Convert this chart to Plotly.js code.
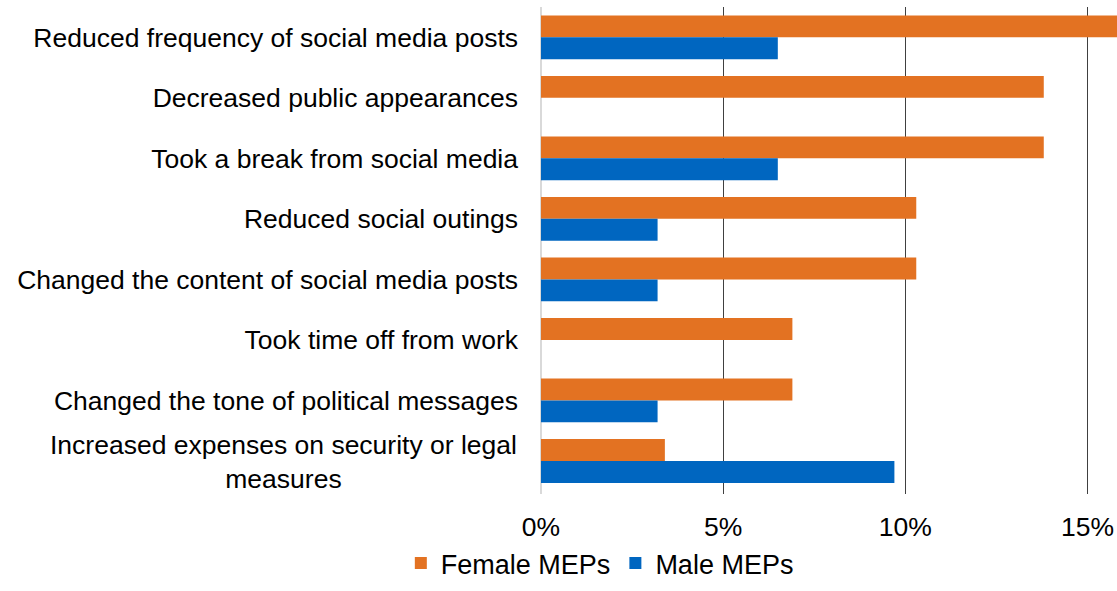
<!DOCTYPE html>
<html>
<head>
<meta charset="utf-8">
<script src="https://cdn.plot.ly/plotly-3.0.1.min.js"></script>
<style>
html,body{margin:0;padding:0;background:#fff;}
#chart{width:1117px;height:591px;}
</style>
</head>
<body>
<div id="chart"></div>
<script>
const categories = [
  "Reduced frequency of social media posts",
  "Decreased public appearances",
  "Took a break from social media",
  "Reduced social outings",
  "Changed the content of social media posts",
  "Took time off from work",
  "Changed the tone of political messages",
  "Increased expenses on security or legal measures"
];
const tickLabels = [
  "Reduced frequency of social media posts",
  "Decreased public appearances",
  "Took a break from social media",
  "Reduced social outings",
  "Changed the content of social media posts",
  "Took time off from work",
  "Changed the tone of political messages",
  ""
];
const longLabel = "Increased expenses on security or legal<br>measures";
const femaleValues = [17.2, 13.8, 13.8, 10.3, 10.3, 6.9, 6.9, 3.4];
const maleValues = [6.5, 0, 6.5, 3.2, 3.2, 0, 3.2, 9.7];
const xTickVals = [0, 5, 10, 15];
const xTickText = ["0%", "5%", "10%", "15%"];

const font = "Liberation Sans, Arial, sans-serif";

const traces = [
  {type:"bar", orientation:"h", name:"Female MEPs", y:categories, x:femaleValues,
   marker:{color:"#E37222"}, hoverinfo:"x+y"},
  {type:"bar", orientation:"h", name:"Male MEPs", y:categories, x:maleValues,
   marker:{color:"#0066C0"}, hoverinfo:"x+y"}
];

const layout = {
  width:1117, height:591,
  margin:{l:541, r:0, t:7, b:97},
  paper_bgcolor:"#fff", plot_bgcolor:"#fff",
  barmode:"group", bargap:0.277, bargroupgap:0,
  font:{family:font, size:26.5, color:"#000"},
  showlegend:true,
  legend:{orientation:"h", xref:"container", yref:"container", x:0.537, xanchor:"center",
          y:0.005, yanchor:"bottom", font:{size:27, color:"#000"}, traceorder:"normal",
          itemwidth:30, tracegroupgap:0},
  xaxis:{range:[0,15.81], tickvals:xTickVals, ticktext:xTickText, showgrid:true,
         gridcolor:"#404040", gridwidth:1, zeroline:true, zerolinecolor:"#d9d9d9", zerolinewidth:2,
         showline:false, ticks:"", ticklabelstandoff:14, tickfont:{size:26.5}, fixedrange:true},
  yaxis:{type:"category", autorange:"reversed", tickvals:categories, ticktext:tickLabels,
         showgrid:false, zeroline:false, showline:false, ticks:"",
         ticklabelstandoff:22, tickfont:{size:26.5}, fixedrange:true},
  annotations:[
    {xref:"paper", yref:"y", x:0, y:categories[7], text:longLabel, showarrow:false,
     xanchor:"right", yanchor:"middle", align:"center", xshift:-22, yshift:-1,
     font:{family:font, size:26.5, color:"#000"}}
  ]
};

Plotly.newPlot("chart", traces, layout, {displayModeBar:false, staticPlot:true});
</script>
</body>
</html>
